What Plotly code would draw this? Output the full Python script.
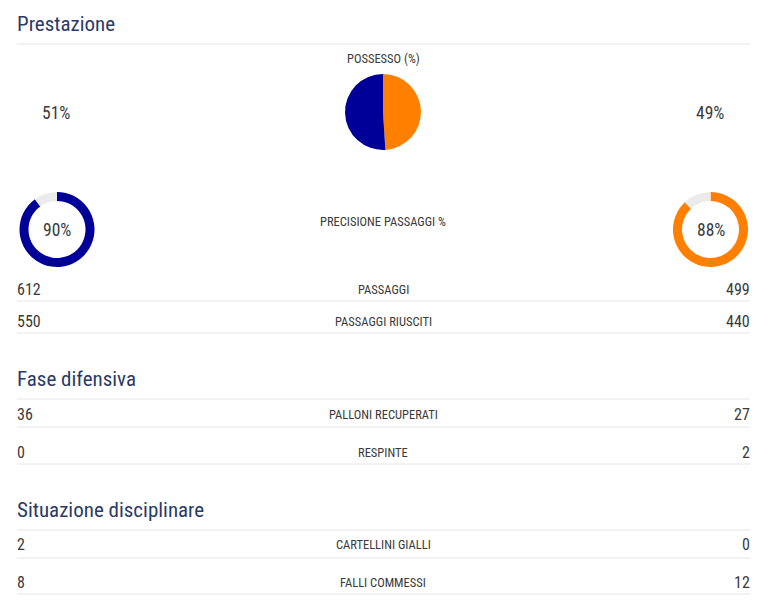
import plotly.graph_objects as go

W, H = 767, 606

# ---------------- data ----------------
possession_label = "POSSESSO (%)"
possession_home = 51
possession_away = 49

pass_acc_label = "PRECISIONE PASSAGGI %"
pass_acc_home = 90
pass_acc_away = 88

section_titles = ["Prestazione", "Fase difensiva", "Situazione disciplinare"]

row_labels = ["PASSAGGI", "PASSAGGI RIUSCITI", "PALLONI RECUPERATI", "RESPINTE",
              "CARTELLINI GIALLI", "FALLI COMMESSI"]
home_values = [612, 550, 36, 0, 2, 8]
away_values = [499, 440, 27, 2, 0, 12]

# ---------------- style / layout ----------------
HOME_COLOR = "#000099"
AWAY_COLOR = "#ff8000"
TRACK_COLOR = "#ebebeb"
HEAD_COLOR = "#2b3a66"
TEXT_COLOR = "#3a3a3a"
LINE_COLOR = "#e6e6e6"
FONT = "Roboto Condensed, Liberation Sans Narrow, DejaVu Sans Condensed, Roboto, sans-serif"

OFF = 8  # page body margin offset
LEFT, RIGHT, CENTER = 17, 750, 383

section_y = [24, 379, 510]
section_line_y = [44, 399, 530]
row_y = [289, 321, 414, 452, 544, 582]
row_line_y = [301, 333, 427, 464, 558, 594]


def px(x):
    return (x - OFF) / W


def py(y):
    return 1 - (y - OFF) / H


def dom(cx, cy, r):
    return dict(x=[px(cx - r), px(cx + r)], y=[py(cy + r), py(cy - r)])


fig = go.Figure()

# possession pie
fig.add_trace(go.Pie(
    values=[possession_away, possession_home],
    marker=dict(colors=[AWAY_COLOR, HOME_COLOR], line=dict(width=0)),
    sort=False, direction="clockwise", rotation=0,
    textinfo="none", hoverinfo="none", showlegend=False,
    domain=dom(383, 112, 38),
))

# pass accuracy donuts
fig.add_trace(go.Pie(
    values=[pass_acc_home, 100 - pass_acc_home],
    marker=dict(colors=[HOME_COLOR, TRACK_COLOR], line=dict(width=0)),
    hole=0.76, sort=False, direction="clockwise", rotation=0,
    textinfo="none", hoverinfo="none", showlegend=False,
    domain=dom(57, 229.5, 37.5),
))
fig.add_trace(go.Pie(
    values=[pass_acc_away, 100 - pass_acc_away],
    marker=dict(colors=[AWAY_COLOR, TRACK_COLOR], line=dict(width=0)),
    hole=0.76, sort=False, direction="clockwise", rotation=0,
    textinfo="none", hoverinfo="none", showlegend=False,
    domain=dom(710.5, 229.5, 37.5),
))

ann = []
shapes = []


def text(x, y, s, size, color=TEXT_COLOR, xanchor="center"):
    ann.append(dict(x=px(x), y=py(y), xref="paper", yref="paper", text=s, showarrow=False,
                    xanchor=xanchor, yanchor="middle",
                    font=dict(family=FONT, size=size, color=color)))


def hline(y):
    shapes.append(dict(type="line", xref="paper", yref="paper",
                       x0=px(LEFT), x1=px(RIGHT), y0=py(y), y1=py(y),
                       line=dict(color=LINE_COLOR, width=1)))


for t, y, ly in zip(section_titles, section_y, section_line_y):
    text(LEFT - 2, y, t, 21, HEAD_COLOR, "left")
    hline(ly)

text(CENTER, 59, possession_label, 12.5)
text(56, 113, f"{possession_home}%", 17.5)
text(710, 113, f"{possession_away}%", 17.5)

text(CENTER, 221, pass_acc_label, 12.5)
text(57, 230, f"{pass_acc_home}%", 17.5)
text(710.5, 230, f"{pass_acc_away}%", 17.5)

for lab, h, a, y, ly in zip(row_labels, home_values, away_values, row_y, row_line_y):
    text(LEFT - 2, y, str(h), 16, TEXT_COLOR, "left")
    text(CENTER, y, lab, 12.5)
    text(RIGHT + 2, y, str(a), 16, TEXT_COLOR, "right")
    hline(ly)

fig.update_layout(
    width=W, height=H,
    margin=dict(l=0, r=0, t=0, b=0),
    paper_bgcolor="white", plot_bgcolor="white",
    annotations=ann, shapes=shapes,
)

fig.write_html("out.html")
